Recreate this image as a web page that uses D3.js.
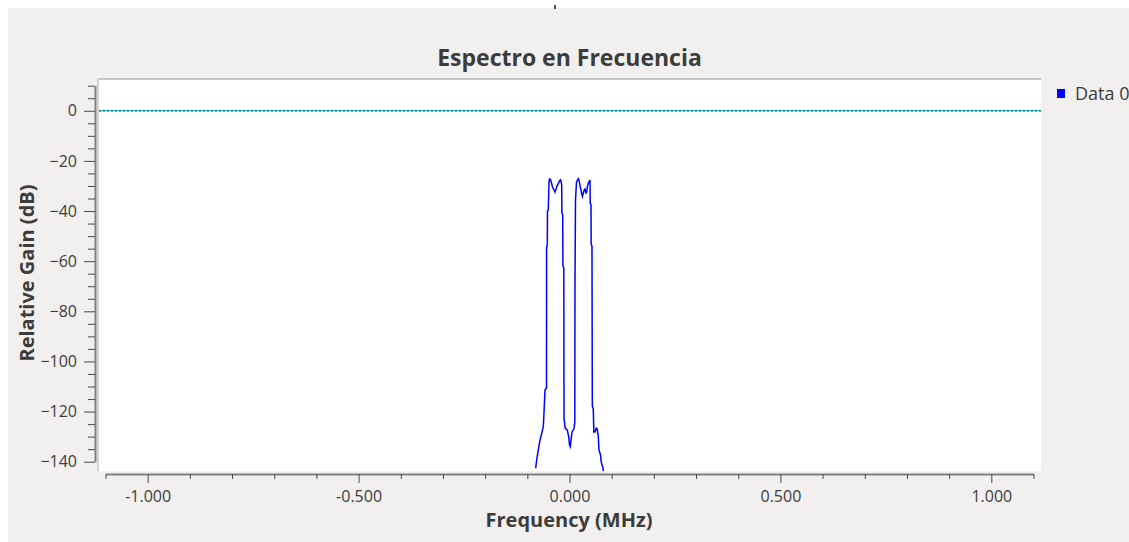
<!DOCTYPE html>
<html>
<head>
<meta charset="utf-8">
<script src="https://cdn.jsdelivr.net/npm/d3@7"></script>
<style>
  html, body { margin: 0; padding: 0; background: #ffffff; }
  svg { display: block; }
  text { font-family: "Open Sans", "Noto Sans", sans-serif; }
</style>
</head>
<body>
<svg id="chart" width="1129" height="542"></svg>
<script>
// ---- Data ----
const freqMHz = [
  -0.0801, -0.0778, -0.0740, -0.0699, -0.0659, -0.0621, -0.0605, -0.0581, -0.0545, -0.0543,
  -0.0526, -0.0522, -0.0503, -0.0486, -0.0474, -0.0450, -0.0427, -0.0403, -0.0379, -0.0344,
  -0.0320, -0.0296, -0.0266, -0.0237, -0.0213, -0.0197, -0.0185, -0.0180, -0.0161, -0.0156,
  -0.0135, -0.0130, -0.0102, -0.0052, -0.0019, 0.0000, 0.0019, 0.0036, 0.0059, 0.0107,
  0.0126, 0.0130, 0.0142, 0.0166, 0.0209, 0.0230, 0.0249, 0.0273, 0.0289, 0.0308,
  0.0327, 0.0349, 0.0367, 0.0391, 0.0408, 0.0427, 0.0446, 0.0469, 0.0486, 0.0491,
  0.0510, 0.0514, 0.0533, 0.0541, 0.0564, 0.0576, 0.0605, 0.0633, 0.0659, 0.0683,
  0.0699, 0.0735, 0.0752, 0.0787, 0.0806
];
const gainDb = [
  -142.6, -139.3, -135.3, -131.4, -128.7, -126.0, -120.7, -111.4, -110.6, -54.4,
  -53.6, -40.0, -39.6, -28.4, -27.2, -27.4, -28.8, -30.4, -31.2, -32.4,
  -31.2, -30.0, -29.1, -28.0, -27.6, -28.4, -29.6, -40.8, -41.6, -61.9,
  -62.7, -122.6, -126.6, -127.4, -130.0, -133.3, -134.0, -131.4, -128.2, -126.8,
  -124.2, -69.5, -35.6, -28.4, -27.1, -28.0, -30.0, -31.6, -33.2, -34.2,
  -32.8, -31.6, -31.2, -32.8, -32.4, -30.0, -28.8, -28.2, -27.6, -36.8,
  -37.6, -53.2, -54.0, -117.8, -119.0, -128.2, -128.2, -126.6, -127.0, -130.0,
  -135.3, -137.3, -140.1, -142.1, -144.1
];
const xMajorTicks = [-1.0, -0.5, 0.0, 0.5, 1.0];
const xMajorLabels = ["-1.000", "-0.500", "0.000", "0.500", "1.000"];
const xMinorTicks = [-1.1, -0.9, -0.8, -0.7, -0.6, -0.4, -0.3, -0.2, -0.1, 0.1, 0.2, 0.3, 0.4, 0.6, 0.7, 0.8, 0.9, 1.1];
const yMajorTicks = [0, -20, -40, -60, -80, -100, -120, -140];
const yMinorTicks = [10, 5, -5, -10, -15, -25, -30, -35, -45, -50, -55, -65, -70, -75, -85, -90, -95, -105, -110, -115, -125, -130, -135];
const markerLevelDb = [0];
const seriesNames = ["Data 0"];
const titleText = "Espectro en Frecuencia";
const xTitle = "Frequency (MHz)";
const yTitle = "Relative Gain (dB)";

// ---- Layout ----
const W = 1129, H = 542;
const svg = d3.select("#chart");
const bg = "#f1f0ef";

svg.append("rect").attr("x", 0).attr("y", 0).attr("width", W).attr("height", H).attr("fill", "#ffffff");
svg.append("rect").attr("x", 8).attr("y", 8).attr("width", W - 8).attr("height", H - 8).attr("fill", bg);
// tiny cut-off mark at the top
svg.append("rect").attr("x", 554).attr("y", 5).attr("width", 2).attr("height", 4).attr("fill", "#555");

const x = d3.scaleLinear().domain([-1.1, 1.1]).range([105.5, 1033.5]);
const y = d3.scaleLinear().domain([-140, 10]).range([461.7, 85.7]);

// canvas
const canvas = {x0: 99, y0: 80, x1: 1041, y1: 471};
svg.append("rect").attr("x", canvas.x0).attr("y", canvas.y0)
  .attr("width", canvas.x1 - canvas.x0).attr("height", canvas.y1 - canvas.y0).attr("fill", "#ffffff");
svg.append("line").attr("x1", 97).attr("x2", canvas.x1).attr("y1", 79).attr("y2", 79)
  .attr("stroke", "#c4c4c4").attr("stroke-width", 2);
svg.append("line").attr("x1", 98).attr("x2", 98).attr("y1", 78).attr("y2", canvas.y1)
  .attr("stroke", "#d2d2d2").attr("stroke-width", 2);

svg.append("defs").append("clipPath").attr("id", "clip")
  .append("rect").attr("x", canvas.x0).attr("y", canvas.y0)
  .attr("width", canvas.x1 - canvas.x0).attr("height", canvas.y1 - canvas.y0);

const plot = svg.append("g").attr("clip-path", "url(#clip)");

// marker line at 0 dB
markerLevelDb.forEach(v => {
  plot.append("line").attr("x1", canvas.x0).attr("x2", canvas.x1)
    .attr("y1", y(v)).attr("y2", y(v)).attr("stroke", "#3fe3e6").attr("stroke-width", 1.3);
  plot.append("line").attr("x1", canvas.x0).attr("x2", canvas.x1)
    .attr("y1", y(v)).attr("y2", y(v)).attr("stroke", "#2a6a80").attr("stroke-width", 1.3)
    .attr("stroke-dasharray", "2,2");
});

// spectrum trace
const pts = freqMHz.map((f, i) => [f, gainDb[i]]);
const line = d3.line().x(d => x(d[0])).y(d => y(d[1]));
plot.append("path").datum(pts).attr("d", line)
  .attr("fill", "none").attr("stroke", "#0000ff").attr("stroke-width", 1.5);

// ---- Axes ----
const axisColor = "#808080";
const tickColor = "#4a4a4a";
const labelColor = "#3c3c3c";
const tickFont = "16px";

// X axis
const xAxisY = 474;
const gxMinor = svg.append("g").attr("transform", `translate(0,${xAxisY})`)
  .call(d3.axisBottom(x).tickValues(xMinorTicks).tickSize(5).tickSizeOuter(0).tickFormat(""));
gxMinor.select(".domain").attr("stroke", axisColor).attr("stroke-width", 2);
gxMinor.selectAll(".tick line").attr("stroke", tickColor);
const gx = svg.append("g").attr("transform", `translate(0,${xAxisY})`)
  .call(d3.axisBottom(x).tickValues(xMajorTicks).tickSize(9).tickSizeOuter(0).tickPadding(8)
    .tickFormat((d, i) => xMajorLabels[i]));
gx.select(".domain").remove();
gx.selectAll(".tick line").attr("stroke", tickColor);
gx.selectAll(".tick text").attr("fill", labelColor).style("font-size", tickFont)
  .style("font-family", "'Open Sans', 'Noto Sans', sans-serif");

// Y axis
const yAxisX = 95;
const gyMinor = svg.append("g").attr("transform", `translate(${yAxisX},0)`)
  .call(d3.axisLeft(y).tickValues(yMinorTicks).tickSize(7).tickSizeOuter(0).tickFormat(""));
gyMinor.select(".domain").attr("stroke", axisColor).attr("stroke-width", 2);
gyMinor.selectAll(".tick line").attr("stroke", tickColor);
const gy = svg.append("g").attr("transform", `translate(${yAxisX},0)`)
  .call(d3.axisLeft(y).tickValues(yMajorTicks).tickSize(11).tickSizeOuter(0).tickPadding(7)
    .tickFormat(d3.format("d")));
gy.select(".domain").remove();
gy.selectAll(".tick line").attr("stroke", tickColor);
gy.selectAll(".tick text").attr("fill", labelColor).style("font-size", tickFont)
  .style("font-family", "'Open Sans', 'Noto Sans', sans-serif");

// Titles
svg.append("text").attr("x", 569.5).attr("y", 65.5).attr("text-anchor", "middle")
  .attr("fill", "#3c3c3c").style("font-size", "23px").style("font-weight", "bold").text(titleText);
svg.append("text").attr("x", 569).attr("y", 527).attr("text-anchor", "middle")
  .attr("fill", "#3c3c3c").style("font-size", "20px").style("font-weight", "bold").text(xTitle);
svg.append("text").attr("transform", "translate(33.5,273) rotate(-90)").attr("text-anchor", "middle")
  .attr("fill", "#3c3c3c").style("font-size", "20px").style("font-weight", "bold").text(yTitle);

// Legend
seriesNames.forEach((name, i) => {
  svg.append("rect").attr("x", 1057).attr("y", 89 + i * 20).attr("width", 8).attr("height", 9).attr("fill", "#0000ff");
  svg.append("text").attr("x", 1075).attr("y", 100 + i * 20).attr("fill", "#3c3c3c")
    .style("font-size", "18px").text(name);
});
</script>
</body>
</html>
